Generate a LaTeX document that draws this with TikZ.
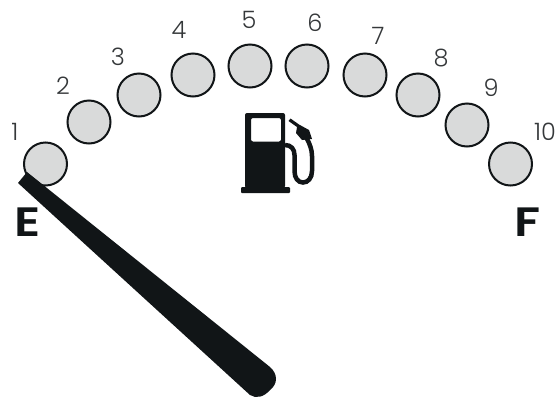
\documentclass[tikz,border=0pt]{standalone}
\usepackage{fontspec}
\setmainfont{Poppins}[UprightFont=* Light,BoldFont=* SemiBold]
\definecolor{ink}{HTML}{111517}
\definecolor{lamp}{HTML}{D9DADA}
\tikzset{
  lampdot/.style={circle,draw=ink,line width=2pt,fill=lamp,minimum size=43pt,inner sep=0pt},
  numlabel/.style={font=\fontsize{24}{24}\selectfont,text=ink!85,inner sep=0pt},
  endlabel/.style={font=\fontsize{41}{41}\selectfont\bfseries,text=ink,inner sep=0pt,xscale=1.2}
}
\begin{document}
\begin{tikzpicture}[x=1pt,y=-1pt]
\useasboundingbox (0,0) rectangle (557,397);
\foreach \n/\x/\y in {1/45.5/164,2/89/122,3/139/95,4/193/75,5/250/66,6/307/66,7/365/75,8/418/95,9/467/125,10/510.5/164}
  \node[lampdot] (c\n) at (\x,\y) {};
\foreach \n/\x/\y in {1/15/132,2/63/86,3/118/57,4/179/30,5/249/20,6/315/23,7/378/36,8/441/58,9/491/88,10/545/132}
  \node[numlabel] (t\n) at (\x,\y) {\n};
\node[endlabel] (E) at (27.5,222.5) {E};
\node[endlabel] (F) at (528,222.5) {F};
% needle
\fill[ink] (18,183) -- (27,172) -- (270,367)
  .. controls (278,374) and (278,384) .. (270,390)
  .. controls (264,397) and (256,399) .. (250,395) -- cycle;
% pump body
\fill[ink,even odd rule,rounded corners=2pt]
  (245,188) -- (245,113) -- (285,113) -- (285,188) -- cycle
  (251,118) rectangle (281,141.5);
\fill[ink,rounded corners=1pt] (241,187) rectangle (290,193);
% hose and nozzle
\draw[ink,line width=4.5pt]
  (285,145) .. controls (291,145) and (294.5,149) .. (294.5,155)
  -- (294.5,171) .. controls (294.5,178) and (298,182.5) .. (303,182.5)
  .. controls (308,182.5) and (312,178) .. (312,171)
  -- (312,156) .. controls (312,150) and (310,144) .. (306,137);
\fill[ink] (288.5,121) -- (290.5,118.5) -- (299,124.5) -- (309,130) -- (312,139)
  -- (302,140) -- (296,133) -- (297,127) -- cycle;
\end{tikzpicture}
\end{document}
